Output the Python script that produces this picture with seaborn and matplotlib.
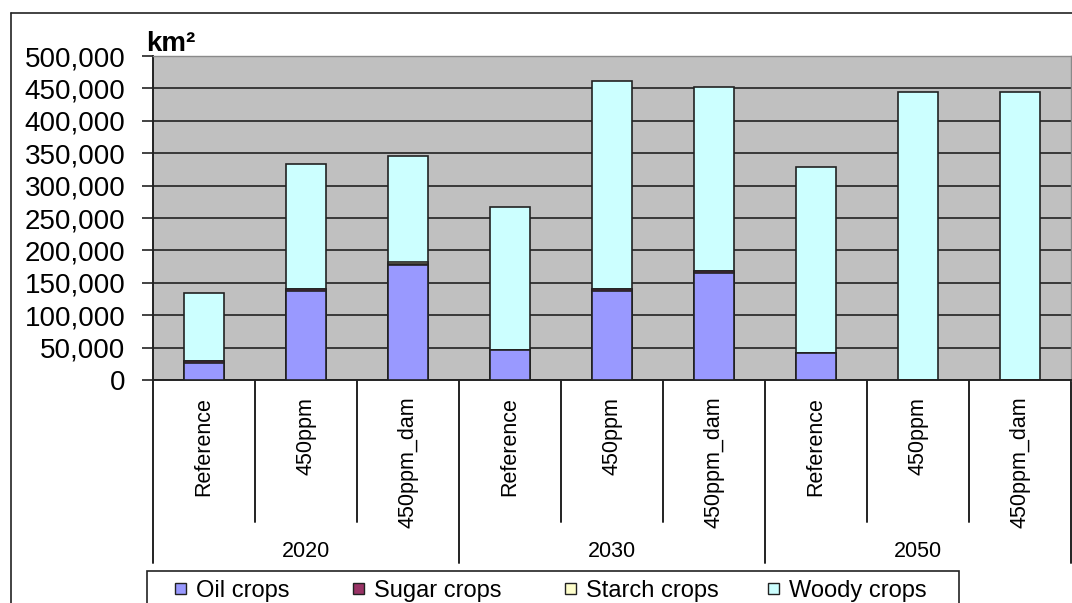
import pandas as pd
import matplotlib.pyplot as plt
import seaborn as sns
from matplotlib.lines import Line2D
from matplotlib.patches import Rectangle
from matplotlib.ticker import FuncFormatter

#-----data-----#
years = ["2020", "2030", "2050"]
scenarios = ["Reference", "450ppm", "450ppm_dam"]
oil = [27000, 137000, 178000, 47000, 137000, 165000, 41000, 0, 0]
sugar = [2000, 3000, 1500, 0, 3000, 3000, 0, 0, 0]
starch = [500, 0, 3000, 0, 0, 0, 0, 0, 0]
woody = [104500, 194000, 163500, 220000, 321000, 284000, 287000, 445000, 445000]

series_names = ["Oil crops", "Sugar crops", "Starch crops", "Woody crops"]
colors = ["#9999FF", "#993366", "#FFFFCC", "#CCFFFF"]

keys = [f"{y} {s}" for y in years for s in scenarios]
df = pd.DataFrame({"key": keys, "oil": oil, "sugar": sugar,
                   "starch": starch, "woody": woody})
# cumulative heights for stacking (draw tallest first)
df["c1"] = df["oil"]
df["c2"] = df["c1"] + df["sugar"]
df["c3"] = df["c2"] + df["starch"]
df["c4"] = df["c3"] + df["woody"]

#-----plot-----#
sns.set_theme(style="white")
plt.rcParams['font.family'] = ['Liberation Sans', 'DejaVu Sans']
plt.rcParams['text.color'] = 'black'
plt.rcParams['xtick.color'] = 'black'
plt.rcParams['ytick.color'] = 'black'

W, H = 1072, 603
fig = plt.figure(figsize=(W/100, H/100), dpi=100)
ax = fig.add_axes([153/W, 1-380/H, 918/W, 324/H])
ax.set_facecolor("#C0C0C0")

for col, c in zip(["c4", "c3", "c2", "c1"], colors[::-1]):
    sns.barplot(data=df, x="key", y=col, order=keys, color=c, width=0.39,
                edgecolor="#222222", linewidth=1.2, saturation=1, ax=ax, zorder=3)

ax.set_ylim(0, 500000)
ax.set_xlim(-0.5, 8.5)
ax.set_yticks(range(0, 500001, 50000))
ax.yaxis.set_major_formatter(FuncFormatter(lambda v, p: f"{int(v):,}"))
ax.tick_params(axis="y", labelsize=20, length=8, width=1.2, pad=12,
               direction="out", left=True, color="#222222", labelcolor="black")
ax.yaxis.grid(True, color="#222222", linewidth=1.2, zorder=1)
ax.set_axisbelow(True)
ax.set_xlabel("")
ax.set_ylabel("")

ax.set_xticks(range(9))
ax.set_xticklabels(scenarios * 3, rotation=90, fontsize=15.5)
ax.tick_params(axis="x", length=0, pad=12, labelcolor="black")

for s in ["left", "bottom"]:
    ax.spines[s].set_color("#222222")
    ax.spines[s].set_linewidth(1.4)
for s in ["top", "right"]:
    ax.spines[s].set_color("#8a8a8a")
    ax.spines[s].set_linewidth(1.0)

# category separators and year labels under the axis
trans = ax.get_xaxis_transform()
for i in range(10):
    x = i - 0.5
    low = -0.565 if i % 3 == 0 else -0.438
    ax.plot([x, x], [0, low], color="#222222", lw=1.4, transform=trans, clip_on=False)
for j, y in enumerate(years):
    ax.text(j*3 + 1, -0.53, y, transform=trans, ha="center", va="center", fontsize=15.5)

fig.text(146/W, 1-51/H, "km²", fontsize=20, fontweight="bold", ha="left", va="baseline")

# legend, laid out like the spreadsheet one (box runs off the bottom)
fig.add_artist(Rectangle((147/W, -0.05), (959-147)/W, 0.05 + 1-571/H,
                         transform=fig.transFigure, facecolor="white",
                         edgecolor="#222222", lw=1.2))
leg_x = [175, 353, 565, 768]
for name, c, x0 in zip(series_names, colors, leg_x):
    fig.add_artist(Rectangle((x0/W, 1-594/H), 11/W, 11/H, transform=fig.transFigure,
                             facecolor=c, edgecolor="#222222", lw=1.0))
    fig.text((x0+21)/W, 1-597/H, name, fontsize=17, ha="left", va="baseline")

# outer chart border (runs off the right and bottom)
fig.add_artist(Line2D([11/W, 1], [1-13/H, 1-13/H], color="#222222", lw=1.2))
fig.add_artist(Line2D([11/W, 11/W], [0, 1-13/H], color="#222222", lw=1.2))

fig.savefig("out.png", dpi=100)
